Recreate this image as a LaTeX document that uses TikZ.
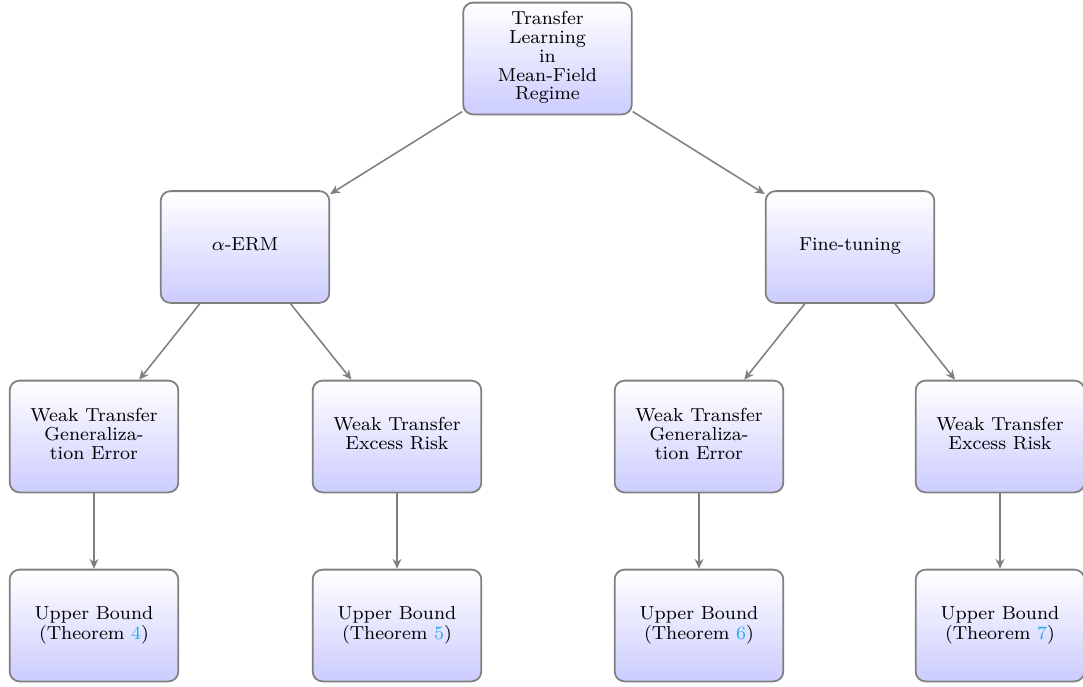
\documentclass[tikz,border=0pt]{standalone}
\usepackage{graphicx}
\usetikzlibrary{arrows.meta,shadings}
\definecolor{linkc}{RGB}{40,170,240}
\definecolor{edgegray}{RGB}{128,128,128}
\newcommand{\boxtext}[1]{\scalebox{1.2}{\fontsize{8pt}{8pt}\selectfont\begin{tabular}{@{}c@{}}#1\end{tabular}}}
\tikzset{
  box/.style={draw=edgegray, line width=0.9pt, rounded corners=5pt,
    top color=white, bottom color=blue!20,
    minimum width=86pt, minimum height=57pt, align=center},
  conn/.style={draw=edgegray, line width=0.8pt, -{Stealth[length=5pt,width=4.5pt]}}
}
\begin{document}
\begin{tikzpicture}[x=0.51pt,y=-0.51pt]
\useasboundingbox (0,0) rectangle (1083,686);
\node[box] (root) at (547.5,58.5) {\boxtext{Transfer\\Learning\\in\\Mean-Field\\Regime}};
\node[box] (aerm) at (245,247) {\boxtext{$\alpha$-ERM}};
\node[box] (ft) at (850,247) {\boxtext{Fine-tuning}};
\node[box] (g1) at (94,436.5) {\boxtext{Weak Transfer\\Generaliza-\\tion Error}};
\node[box] (e1) at (397,436.5) {\boxtext{Weak Transfer\\Excess Risk}};
\node[box] (g2) at (699,436.5) {\boxtext{Weak Transfer\\Generaliza-\\tion Error}};
\node[box] (e2) at (1000,436.5) {\boxtext{Weak Transfer\\Excess Risk}};
\node[box] (t4) at (94,625.5) {\boxtext{Upper Bound\\(Theorem \textcolor{linkc}{4})}};
\node[box] (t5) at (397,625.5) {\boxtext{Upper Bound\\(Theorem \textcolor{linkc}{5})}};
\node[box] (t6) at (699,625.5) {\boxtext{Upper Bound\\(Theorem \textcolor{linkc}{6})}};
\node[box] (t7) at (1000,625.5) {\boxtext{Upper Bound\\(Theorem \textcolor{linkc}{7})}};
\draw[conn] (root) -- (aerm);
\draw[conn] (root) -- (ft);
\draw[conn] (aerm) -- (g1);
\draw[conn] (aerm) -- (e1);
\draw[conn] (ft) -- (g2);
\draw[conn] (ft) -- (e2);
\draw[conn] (g1) -- (t4);
\draw[conn] (e1) -- (t5);
\draw[conn] (g2) -- (t6);
\draw[conn] (e2) -- (t7);
\end{tikzpicture}
\end{document}
